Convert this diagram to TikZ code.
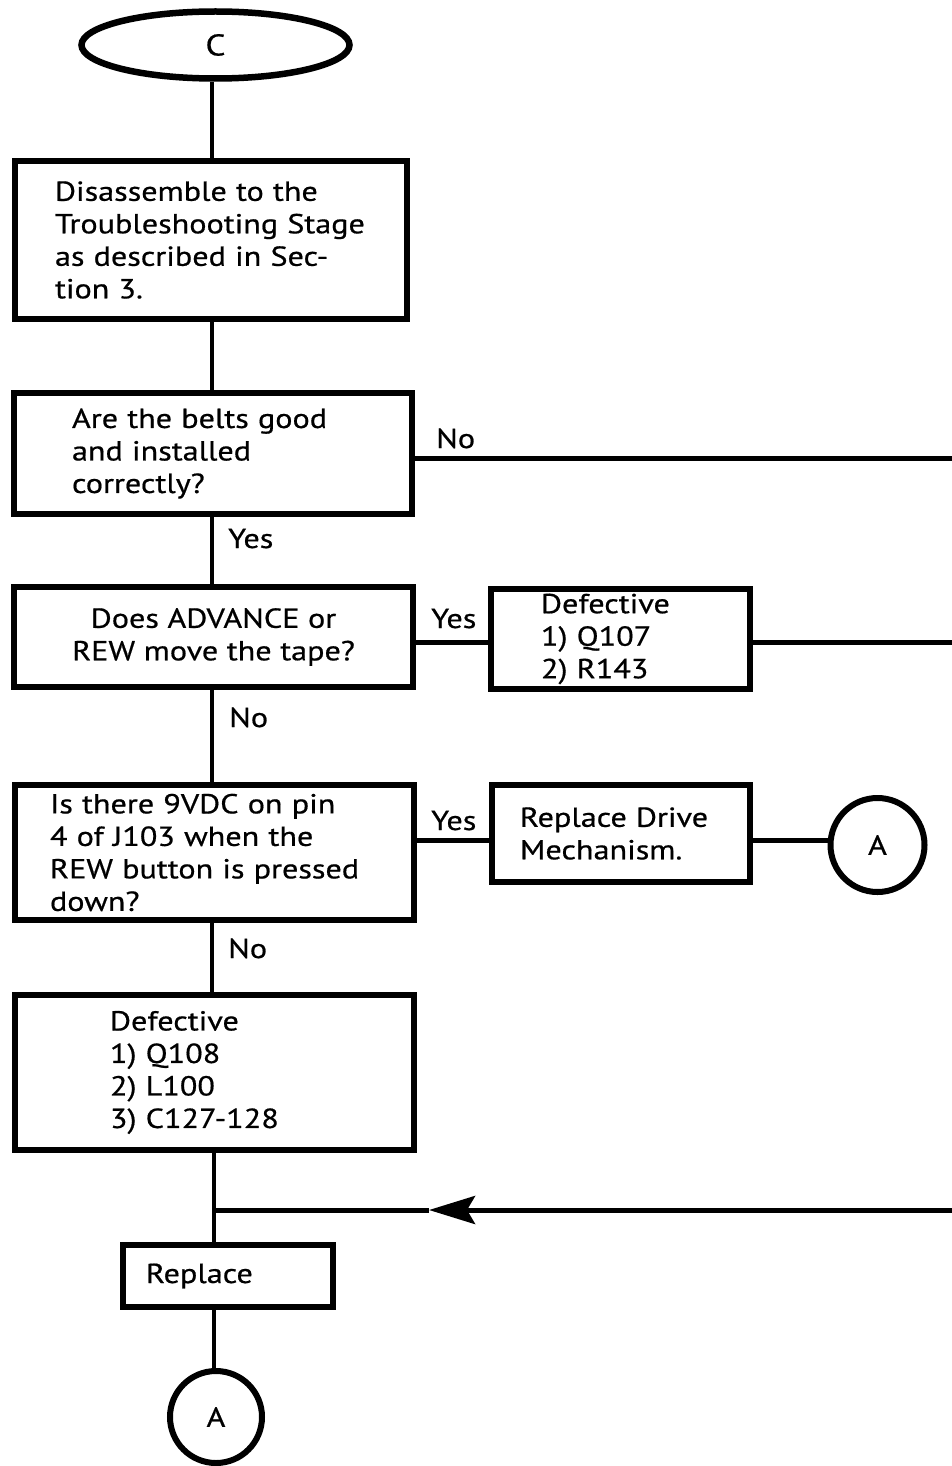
\documentclass[tikz,border=0pt]{standalone}
\usepackage{fontspec}
\setmainfont[FakeStretch=1.17,FakeBold=0.6]{PT Sans}
\usetikzlibrary{shapes.geometric,arrows.meta}
\begin{document}
\begin{tikzpicture}[x=1pt,y=-1pt,
  every node/.style={font=\fontsize{27.5}{32.5}\selectfont},
  box/.style={draw,line width=6pt,rectangle,inner sep=0pt,align=left},
  conn/.style={line width=3.5pt},
  hconn/.style={line width=5pt},
  lbl/.style={inner sep=0pt,anchor=base west},
  term/.style={draw,line width=6.5pt,ellipse,inner sep=0pt},
  conncirc/.style={draw,line width=6pt,circle,inner sep=0pt}]
\useasboundingbox[fill=white] (0,0) rectangle (952,1466);
\coordinate (spine) at (212,0);
% nodes
\node[term,minimum width=268pt,minimum height=67pt,font=\fontsize{30}{32.5}\selectfont] (C) at (215.5,45) {C};
\node[box,minimum width=392pt,minimum height=158pt,text width=312pt] (b1) at (211,240)
  {Disassemble to the\\Troubleshooting Stage\\as described in Sec-\\tion 3.};
\node[box,minimum width=398pt,minimum height=121pt,text width=282pt] (b2) at (213,453.5)
  {Are the belts good\\and installed\\correctly?};
\node[box,minimum width=399pt,minimum height=100pt,align=center] (b3) at (213.5,637)
  {Does ADVANCE or\\REW move the tape?};
\node[box,minimum width=259pt,minimum height=100pt,text width=159pt] (d1) at (620.5,639)
  {Defective\\1) Q107\\2) R143};
\node[box,minimum width=399pt,minimum height=135pt,text width=329pt] (b4) at (214.5,852.5)
  {Is there 9VDC on pin\\4 of J103 when the\\REW button is pressed\\down?};
\node[box,minimum width=258pt,minimum height=97pt,text width=202pt] (r2) at (621,833.5)
  {Replace Drive\\Mechanism.};
\node[conncirc,minimum size=94pt] (A1) at (877.5,845) {A};
\node[box,minimum width=399pt,minimum height=155pt,text width=209pt] (b5) at (214.5,1072.5)
  {Defective\\1) Q108\\2) L100\\3) C127-128};
\node[box,minimum width=210pt,minimum height=62pt,text width=164pt] (rp) at (228,1276)
  {Replace};
\node[conncirc,minimum size=92pt] (A2) at (216,1417) {A};
% free ends
\coordinate (e1) at (952,458);
\coordinate (e2) at (952,642);
\coordinate (e3) at (952,1210);
\coordinate (tip) at (429,1210);
\coordinate (j) at (214,1210);
% connectors
\draw[conn] (C.south -| spine) -- (b1.north -| spine);
\draw[conn] (b1.south -| spine) -- (b2.north -| spine);
\draw[hconn] (b2.east |- e1) -- (e1);
\draw[conn] (b2.south -| spine) -- (b3.north -| spine);
\draw[hconn] (b3.east |- e2) -- (d1.west |- e2);
\draw[hconn] (d1.east |- e2) -- (e2);
\draw[conn] (b3.south -| spine) -- (b4.north -| spine);
\draw[hconn] (b4.east |- 0,840) -- (r2.west |- 0,840);
\draw[hconn] (r2.east |- 0,840) -- (A1.west |- 0,840);
\draw[conn] (b4.south -| spine) -- (b5.north -| spine);
\draw[conn] (b5.south -| j) -- (rp.north -| j);
\draw[hconn,-{Stealth[length=46pt,width=28pt,inset=8pt]}] (e3) -- (tip);
\draw[hconn] (tip) -- (j);
\draw[conn] (rp.south -| j) -- (A2.north -| j);
% labels
\node[lbl] (l1) at (436,448) {No};
\node[lbl] (l2) at (228,548) {Yes};
\node[lbl] (l3) at (431,628) {Yes};
\node[lbl] (l4) at (229,727) {No};
\node[lbl] (l5) at (431,830) {Yes};
\node[lbl] (l6) at (228,958) {No};
\end{tikzpicture}
\end{document}
